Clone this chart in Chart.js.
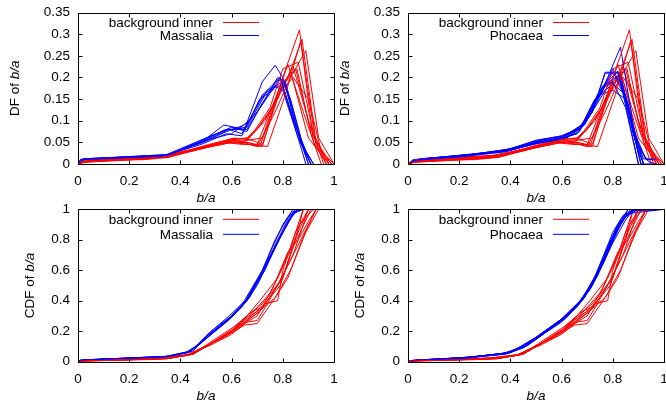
<!DOCTYPE html>
<html><head><meta charset="utf-8">
<script src="https://cdn.jsdelivr.net/npm/chart.js@4"></script>
<style>
html,body{margin:0;padding:0;background:#fff;overflow:hidden;width:666px;height:408px;}
canvas{position:absolute;}
</style></head><body>
<canvas id="c1" width="346" height="206" style="left:0px;top:0px"></canvas>
<canvas id="c2" width="346" height="206" style="left:330px;top:0px"></canvas>
<canvas id="c3" width="346" height="208" style="left:0px;top:200px"></canvas>
<canvas id="c4" width="346" height="208" style="left:330px;top:200px"></canvas>
<script>
// ---- tick labels ----
const xTicks = [0, 0.2, 0.4, 0.6, 0.8, 1];
const dfTicks = [0, 0.05, 0.1, 0.15, 0.2, 0.25, 0.3, 0.35];
const cdfTicks = [0, 0.2, 0.4, 0.6, 0.8, 1];
const bgName = 'background inner';
const famNames = ['Massalia', 'Phocaea'];

// ---- background inner: DF ----
const bgDfX = [
  [0,0.03,0.35,0.5,0.6,0.66,0.72,0.8,0.865,0.92,0.97],
  [0,0.02,0.3,0.48,0.58,0.66,0.74,0.81,0.87,0.93,0.99],
  [0,0.04,0.35,0.52,0.62,0.7,0.77,0.83,0.89,0.94,1.0],
  [0,0.03,0.33,0.5,0.6,0.67,0.75,0.8,0.86,0.92,0.98],
  [0,0.02,0.36,0.51,0.61,0.68,0.72,0.79,0.84,0.91,0.97],
  [0,0.03,0.34,0.49,0.59,0.65,0.73,0.8,0.85,0.9,0.96],
  [0,0.05,0.35,0.5,0.6,0.66,0.71,0.78,0.83,0.9,0.98],
  [0,0.03,0.33,0.47,0.58,0.65,0.7,0.76,0.82,0.88,0.95],
  [0,0.02,0.35,0.5,0.6,0.67,0.71,0.8,0.855,0.91,0.99],
  [0,0.04,0.26,0.45,0.56,0.65,0.7,0.77,0.82,0.875,0.93,0.98],
  [0,0.03,0.3,0.48,0.6,0.66,0.72,0.78,0.84,0.9,0.95,1]
];
const bgDfY = [
  [0,0.006,0.015,0.04,0.055,0.055,0.06,0.2,0.31,0.05,0],
  [0,0.004,0.012,0.035,0.05,0.05,0.04,0.16,0.285,0.04,0],
  [0,0.008,0.018,0.045,0.055,0.04,0.12,0.2,0.262,0.06,0],
  [0,0.01,0.02,0.04,0.058,0.06,0.13,0.22,0.235,0.07,0],
  [0,0.006,0.02,0.045,0.06,0.055,0.045,0.17,0.225,0.08,0],
  [0,0.005,0.017,0.04,0.052,0.048,0.1,0.18,0.22,0.1,0],
  [0,0.008,0.02,0.04,0.056,0.06,0.09,0.15,0.215,0.06,0],
  [0,0.006,0.015,0.035,0.05,0.052,0.08,0.13,0.23,0.12,0],
  [0,0.004,0.015,0.038,0.05,0.045,0.04,0.19,0.22,0.07,0],
  [0,0.01,0.01,0.03,0.05,0.045,0.045,0.15,0.2,0.288,0.05,0],
  [0,0.006,0.014,0.035,0.05,0.05,0.04,0.16,0.2,0.15,0.03,0]
];
// ---- background inner: CDF ----
const bgCdfX = [
  [0,0.03,0.35,0.45,0.5,0.6,0.66,0.72,0.8,0.865,0.92,1],
  [0,0.02,0.3,0.42,0.52,0.6,0.66,0.7,0.74,0.81,0.87,0.93,1],
  [0,0.04,0.35,0.45,0.52,0.62,0.7,0.77,0.83,0.89,0.94,1],
  [0,0.03,0.33,0.44,0.5,0.6,0.67,0.75,0.8,0.86,0.9,1],
  [0,0.02,0.36,0.45,0.51,0.61,0.68,0.72,0.79,0.84,0.91,1],
  [0,0.03,0.34,0.44,0.49,0.59,0.65,0.73,0.78,0.8,0.85,0.9,1],
  [0,0.05,0.35,0.45,0.5,0.6,0.66,0.71,0.78,0.83,0.88,1],
  [0,0.03,0.33,0.43,0.47,0.58,0.65,0.7,0.76,0.82,0.86,0.9,0.93,1],
  [0,0.02,0.35,0.45,0.5,0.6,0.67,0.71,0.8,0.855,0.88,1],
  [0,0.04,0.26,0.42,0.5,0.58,0.65,0.7,0.77,0.82,0.875,0.93,1],
  [0,0.03,0.3,0.43,0.52,0.6,0.66,0.72,0.78,0.84,0.9,1]
];
const bgCdfY = [
  [0,0.005,0.02,0.05,0.1,0.2,0.3,0.38,0.55,0.9,1,1],
  [0,0.004,0.015,0.04,0.11,0.18,0.26,0.27,0.38,0.6,0.8,1,1],
  [0,0.008,0.02,0.05,0.12,0.22,0.32,0.42,0.6,0.85,1,1],
  [0,0.01,0.025,0.05,0.1,0.2,0.3,0.45,0.62,0.85,1,1],
  [0,0.006,0.025,0.05,0.12,0.23,0.33,0.36,0.5,0.75,1,1],
  [0,0.005,0.02,0.045,0.09,0.19,0.26,0.38,0.4,0.6,0.85,1,1],
  [0,0.008,0.025,0.05,0.1,0.21,0.3,0.4,0.55,0.75,1,1],
  [0,0.006,0.02,0.045,0.08,0.17,0.25,0.3,0.48,0.72,0.8,0.92,1,1],
  [0,0.004,0.02,0.05,0.1,0.2,0.28,0.33,0.55,0.83,1,1],
  [0,0.01,0.015,0.04,0.1,0.17,0.24,0.25,0.42,0.55,0.8,1,1],
  [0,0.006,0.02,0.045,0.12,0.2,0.29,0.35,0.5,0.7,1,1]
];

// ---- Massalia: DF ----
const masDfX = [
  [0,0.02,0.35,0.48,0.57,0.65,0.72,0.77,0.8,0.86,0.9],
  [0,0.01,0.33,0.5,0.6,0.66,0.71,0.78,0.81,0.87,0.91],
  [0,0.02,0.36,0.52,0.59,0.64,0.73,0.79,0.84,0.89,0.92],
  [0,0.03,0.34,0.49,0.58,0.65,0.7,0.77,0.8,0.86,0.91],
  [0,0.02,0.35,0.5,0.6,0.67,0.72,0.78,0.8,0.85,0.9],
  [0,0.01,0.35,0.51,0.57,0.66,0.74,0.8,0.83,0.88,0.92],
  [0,0.02,0.34,0.48,0.58,0.64,0.71,0.76,0.79,0.85,0.89],
  [0,0.02,0.36,0.5,0.59,0.66,0.72,0.78,0.81,0.87,0.91]
];
const masDfY = [
  [0,0.012,0.02,0.05,0.09,0.08,0.19,0.228,0.2,0.07,0],
  [0,0.01,0.018,0.06,0.085,0.075,0.13,0.2,0.19,0.06,0],
  [0,0.011,0.022,0.065,0.08,0.07,0.165,0.2,0.1,0.03,0],
  [0,0.012,0.02,0.05,0.075,0.09,0.12,0.18,0.17,0.06,0],
  [0,0.01,0.021,0.055,0.07,0.1,0.16,0.18,0.18,0.09,0],
  [0,0.011,0.018,0.06,0.078,0.085,0.17,0.19,0.15,0.04,0],
  [0,0.01,0.02,0.045,0.07,0.065,0.15,0.17,0.2,0.08,0],
  [0,0.012,0.022,0.055,0.08,0.08,0.14,0.195,0.185,0.05,0]
];
// ---- Massalia: CDF ----
const masCdfX = [
  [0,0.02,0.35,0.42,0.48,0.52,0.6,0.65,0.72,0.77,0.82,0.86,1],
  [0,0.01,0.33,0.43,0.5,0.55,0.6,0.66,0.71,0.78,0.84,0.88,1],
  [0,0.02,0.36,0.44,0.52,0.59,0.64,0.73,0.79,0.84,0.87,1],
  [0,0.03,0.34,0.43,0.49,0.58,0.65,0.7,0.77,0.82,0.86,1],
  [0,0.02,0.35,0.44,0.5,0.6,0.67,0.72,0.78,0.83,0.85,1],
  [0,0.01,0.35,0.45,0.51,0.57,0.66,0.74,0.8,0.85,0.88,1],
  [0,0.02,0.34,0.43,0.48,0.58,0.64,0.71,0.76,0.8,0.84,1],
  [0,0.02,0.36,0.44,0.5,0.59,0.66,0.72,0.79,0.84,0.87,1]
];
const masCdfY = [
  [0,0.012,0.035,0.06,0.12,0.2,0.3,0.4,0.6,0.8,0.95,1,1],
  [0,0.01,0.03,0.06,0.15,0.22,0.29,0.4,0.55,0.78,0.97,1,1],
  [0,0.011,0.035,0.07,0.18,0.28,0.36,0.6,0.82,0.98,1,1],
  [0,0.012,0.035,0.065,0.14,0.26,0.38,0.5,0.75,0.92,1,1],
  [0,0.01,0.035,0.07,0.16,0.3,0.42,0.58,0.8,0.97,1,1],
  [0,0.011,0.03,0.07,0.18,0.25,0.4,0.65,0.85,0.99,1,1],
  [0,0.01,0.03,0.06,0.12,0.27,0.36,0.56,0.75,0.9,1,1],
  [0,0.012,0.035,0.065,0.17,0.3,0.41,0.6,0.82,0.98,1,1]
];

// ---- Phocaea: DF ----
const phoDfX = [
  [0,0.03,0.2,0.38,0.5,0.6,0.67,0.72,0.77,0.82,0.87,0.91,0.97],
  [0,0.04,0.22,0.4,0.52,0.62,0.68,0.74,0.78,0.83,0.88,0.92],
  [0,0.02,0.2,0.38,0.48,0.58,0.66,0.73,0.8,0.84,0.88,0.93,0.97],
  [0,0.05,0.25,0.4,0.5,0.6,0.68,0.75,0.79,0.85,0.9,0.92],
  [0,0.03,0.2,0.36,0.5,0.61,0.67,0.72,0.78,0.82,0.86,0.91],
  [0,0.04,0.23,0.4,0.52,0.6,0.69,0.76,0.81,0.86,0.9,0.94,0.97],
  [0,0.02,0.2,0.37,0.49,0.59,0.66,0.71,0.77,0.8,0.85,0.9],
  [0,0.03,0.24,0.39,0.51,0.61,0.68,0.74,0.8,0.84,0.89,0.92,0.97],
  [0,0.04,0.21,0.38,0.5,0.6,0.67,0.73,0.79,0.83,0.87,0.91],
  [0,0.03,0.2,0.4,0.52,0.62,0.69,0.75,0.8,0.85,0.88,0.92],
  [0,0.02,0.22,0.39,0.5,0.6,0.66,0.72,0.77,0.82,0.86,0.9],
  [0,0.05,0.24,0.4,0.51,0.6,0.68,0.74,0.78,0.83,0.88,0.93,0.97]
];
const phoDfY = [
  [0,0.008,0.018,0.03,0.05,0.06,0.08,0.12,0.21,0.21,0.1,0,0],
  [0,0.01,0.02,0.032,0.05,0.062,0.09,0.15,0.2,0.27,0.09,0],
  [0,0.008,0.016,0.028,0.045,0.055,0.07,0.14,0.22,0.17,0.08,0.01,0.01],
  [0,0.012,0.022,0.035,0.055,0.065,0.085,0.17,0.19,0.16,0.03,0],
  [0,0.01,0.02,0.03,0.05,0.06,0.075,0.13,0.19,0.215,0.12,0],
  [0,0.01,0.02,0.033,0.052,0.06,0.095,0.18,0.2,0.14,0.04,0.005,0],
  [0,0.008,0.018,0.03,0.048,0.058,0.07,0.11,0.18,0.19,0.13,0],
  [0,0.01,0.02,0.034,0.055,0.065,0.09,0.16,0.21,0.18,0.06,0.012,0.012],
  [0,0.01,0.02,0.03,0.05,0.062,0.08,0.15,0.18,0.2,0.1,0],
  [0,0.008,0.018,0.032,0.05,0.06,0.09,0.16,0.17,0.15,0.07,0],
  [0,0.01,0.02,0.03,0.052,0.065,0.08,0.12,0.212,0.212,0.11,0],
  [0,0.012,0.022,0.034,0.05,0.06,0.085,0.14,0.18,0.21,0.07,0.01,0.01]
];
// ---- Phocaea: CDF ----
const phoCdfX = [
  [0,0.03,0.2,0.38,0.45,0.5,0.6,0.67,0.72,0.77,0.82,0.87,0.91,1],
  [0,0.04,0.22,0.4,0.47,0.52,0.62,0.68,0.74,0.78,0.83,0.88,1],
  [0,0.02,0.2,0.38,0.44,0.48,0.58,0.66,0.73,0.8,0.84,0.88,1],
  [0,0.05,0.25,0.4,0.45,0.5,0.6,0.68,0.75,0.79,0.85,0.9,1],
  [0,0.03,0.2,0.36,0.42,0.5,0.61,0.67,0.72,0.78,0.82,0.86,1],
  [0,0.04,0.23,0.4,0.46,0.52,0.6,0.69,0.76,0.81,0.86,0.9,1],
  [0,0.02,0.2,0.37,0.44,0.49,0.59,0.66,0.71,0.77,0.8,0.85,1],
  [0,0.03,0.24,0.39,0.45,0.51,0.61,0.68,0.74,0.8,0.84,0.89,1],
  [0,0.04,0.21,0.38,0.43,0.5,0.6,0.67,0.73,0.79,0.83,0.87,1],
  [0,0.03,0.2,0.4,0.46,0.52,0.62,0.69,0.75,0.8,0.85,0.88,1],
  [0,0.02,0.22,0.39,0.44,0.5,0.6,0.66,0.72,0.77,0.82,0.86,1],
  [0,0.05,0.24,0.4,0.46,0.51,0.6,0.68,0.74,0.78,0.83,0.88,1]
];
const phoCdfY = [
  [0,0.008,0.02,0.05,0.09,0.15,0.26,0.38,0.5,0.7,0.9,0.99,1,1],
  [0,0.01,0.025,0.06,0.11,0.17,0.29,0.4,0.56,0.73,0.92,1,1],
  [0,0.008,0.02,0.05,0.09,0.13,0.24,0.36,0.55,0.85,0.96,0.99,1],
  [0,0.012,0.03,0.06,0.1,0.16,0.28,0.41,0.62,0.78,0.95,1,1],
  [0,0.01,0.025,0.05,0.08,0.16,0.29,0.39,0.5,0.72,0.88,1,1],
  [0,0.01,0.025,0.06,0.11,0.18,0.28,0.43,0.65,0.86,0.98,1,1],
  [0,0.008,0.02,0.05,0.09,0.14,0.26,0.37,0.47,0.67,0.8,0.97,1],
  [0,0.01,0.028,0.06,0.1,0.17,0.29,0.41,0.58,0.82,0.94,1,1],
  [0,0.01,0.025,0.055,0.09,0.16,0.28,0.38,0.55,0.75,0.9,1,1],
  [0,0.008,0.02,0.06,0.1,0.17,0.3,0.42,0.6,0.78,0.93,1,1],
  [0,0.01,0.025,0.055,0.09,0.15,0.27,0.37,0.52,0.72,0.9,1,1],
  [0,0.012,0.03,0.06,0.11,0.16,0.28,0.4,0.57,0.74,0.92,0.99,1]
];

// ---- rendering ----
const RED = '#ff0000', BLUE = '#0000ff';
const FAMILY = '"Liberation Sans", Arial, Helvetica, sans-serif';
const FS = 13.5;
const fmt = v => String(parseFloat(Number(v).toFixed(2)));

function toSets(xs, ys, color) {
  return xs.map((xa, i) => ({
    data: xa.map((x, j) => ({x: x, y: ys[i][j]})),
    borderColor: color, borderWidth: 1, pointRadius: 0, fill: false, tension: 0
  }));
}
function interleave(a, b) {
  const out = []; const n = Math.max(a.length, b.length);
  for (let i = 0; i < n; i++) { if (i < a.length) out.push(a[i]); if (i < b.length) out.push(b[i]); }
  return out;
}

const gnuPlugin = {
  id: 'gnu',
  afterDatasetsDraw(chart, args, o) {
    const ctx = chart.ctx, a = chart.chartArea;
    const xs = chart.scales.x, ys = chart.scales.y;
    const snap = v => Math.round(v) + 0.5;
    ctx.save();
    ctx.strokeStyle = '#000'; ctx.lineWidth = 1;
    const L = snap(a.left), R = snap(a.right), T = snap(a.top), B = snap(a.bottom);
    ctx.beginPath();
    ctx.rect(L, T, R - L, B - T);
    const tl = 4;
    o.xTicks.forEach(v => {
      const p = snap(xs.getPixelForValue(v));
      ctx.moveTo(p, B); ctx.lineTo(p, B - tl);
      ctx.moveTo(p, T); ctx.lineTo(p, T + tl);
    });
    o.yTicks.forEach(v => {
      const p = snap(ys.getPixelForValue(v));
      ctx.moveTo(L, p); ctx.lineTo(L + tl, p);
      ctx.moveTo(R, p); ctx.lineTo(R - tl, p);
    });
    ctx.stroke();

    // legend
    ctx.fillStyle = '#000';
    ctx.font = FS + 'px ' + FAMILY;
    ctx.textAlign = 'right'; ctx.textBaseline = 'middle';
    o.legend.forEach((it, i) => {
      const y = a.top + o.legendDy[i];
      ctx.fillText(it.text, a.right - 121, y + 0.5);
      ctx.beginPath();
      ctx.strokeStyle = it.color; ctx.lineWidth = 1;
      ctx.moveTo(a.right - 111, y); ctx.lineTo(a.right - 75, y);
      ctx.stroke();
    });

    // x title (italic b/a)
    ctx.fillStyle = '#000';
    ctx.textAlign = 'center'; ctx.textBaseline = 'middle';
    ctx.font = 'italic ' + FS + 'px ' + FAMILY;
    ctx.fillText(o.xTitle, (a.left + a.right) / 2, o.xTitleY);

    // y title: normal + italic
    ctx.translate(o.yTitleX, (a.top + a.bottom) / 2);
    ctx.rotate(-Math.PI / 2);
    ctx.textAlign = 'left';
    ctx.font = FS + 'px ' + FAMILY;
    const w1 = ctx.measureText(o.yTitlePre).width;
    ctx.font = 'italic ' + FS + 'px ' + FAMILY;
    const w2 = ctx.measureText(o.yTitleIt).width;
    const start = -(w1 + w2) / 2;
    ctx.font = FS + 'px ' + FAMILY;
    ctx.fillText(o.yTitlePre, start, 0);
    ctx.font = 'italic ' + FS + 'px ' + FAMILY;
    ctx.fillText(o.yTitleIt, start + w1, 0);
    ctx.restore();
  }
};

function makePanel(id, cfg) {
  const canvas = document.getElementById(id);
  const datasets = interleave(toSets(cfg.bgX, cfg.bgY, RED), toSets(cfg.famX, cfg.famY, BLUE));
  new Chart(canvas, {
    type: 'line',
    data: { datasets: datasets },
    plugins: [gnuPlugin],
    options: {
      responsive: false, animation: false, devicePixelRatio: 1, events: [],
      layout: { padding: { left: 0, right: 12, top: cfg.padTop, bottom: 0 } },
      plugins: {
        legend: { display: false }, tooltip: { enabled: false },
        gnu: {
          xTicks: xTicks, yTicks: cfg.yTicks,
          legend: [{ text: bgName, color: RED }, { text: cfg.famName, color: BLUE }],
          legendDy: cfg.legendDy,
          xTitle: 'b/a', xTitleY: cfg.xTitleY,
          yTitlePre: cfg.yTitlePre, yTitleIt: 'b/a', yTitleX: cfg.yTitleX
        }
      },
      scales: {
        x: {
          type: 'linear', min: 0, max: 1,
          afterBuildTicks: s => { s.ticks = xTicks.map(v => ({ value: v })); },
          afterFit: s => { s.height = cfg.xAxisH; s.paddingLeft = 0; s.paddingRight = 0; s.paddingTop = 0; s.paddingBottom = 0; },
          ticks: { callback: v => fmt(v), color: '#000', font: { family: FAMILY, size: FS }, padding: 9, maxRotation: 0, autoSkip: false },
          grid: { display: false, drawTicks: false }, border: { display: false }
        },
        y: {
          type: 'linear', min: 0, max: cfg.yMax,
          afterBuildTicks: s => { s.ticks = cfg.yTicks.map(v => ({ value: v })); },
          afterFit: s => { s.width = 78; s.paddingLeft = 0; s.paddingRight = 0; s.paddingTop = 0; s.paddingBottom = 0; },
          ticks: { callback: v => fmt(v), color: '#000', font: { family: FAMILY, size: FS }, padding: 8, autoSkip: false },
          grid: { display: false, drawTicks: false }, border: { display: false }
        }
      }
    }
  });
}

makePanel('c1', { bgX: bgDfX, bgY: bgDfY, famX: masDfX, famY: masDfY, famName: famNames[0],
  yTicks: dfTicks, yMax: 0.35, yTitlePre: 'DF of ', yTitleX: 15, xTitleY: 198,
  padTop: 12.5, xAxisH: 42, legendDy: [10, 23] });
makePanel('c2', { bgX: bgDfX, bgY: bgDfY, famX: phoDfX, famY: phoDfY, famName: famNames[1],
  yTicks: dfTicks, yMax: 0.35, yTitlePre: 'DF of ', yTitleX: 15, xTitleY: 198,
  padTop: 12.5, xAxisH: 42, legendDy: [10, 23] });
makePanel('c3', { bgX: bgCdfX, bgY: bgCdfY, famX: masCdfX, famY: masCdfY, famName: famNames[0],
  yTicks: cdfTicks, yMax: 1, yTitlePre: 'CDF of ', yTitleX: 30, xTitleY: 196,
  padTop: 9.3, xAxisH: 46.3, legendDy: [10, 25] });
makePanel('c4', { bgX: bgCdfX, bgY: bgCdfY, famX: phoCdfX, famY: phoCdfY, famName: famNames[1],
  yTicks: cdfTicks, yMax: 1, yTitlePre: 'CDF of ', yTitleX: 30, xTitleY: 196,
  padTop: 9.3, xAxisH: 46.3, legendDy: [10, 25] });
</script>
</body></html>
